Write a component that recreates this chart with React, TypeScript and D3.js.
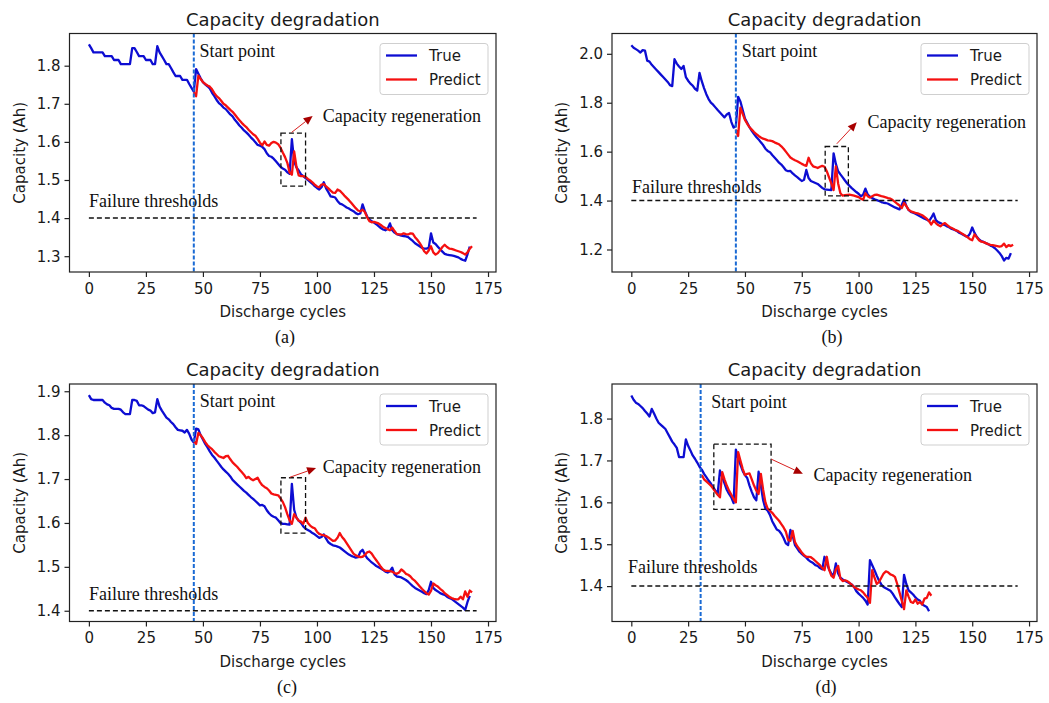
import { useEffect, useRef } from 'react';
import * as d3 from 'd3';

// shared axis values
const cycleTicks = [0, 25, 50, 75, 100, 125, 150, 175];
const failureThreshold = 1.4;
const thresholdEnd = 170;

// (a) true capacity, cycles 0..167
const trueA = [
  1.856, 1.846, 1.835, 1.835, 1.835, 1.835, 1.835, 1.825, 1.825, 1.825,
  1.825, 1.815, 1.815, 1.815, 1.804, 1.804, 1.804, 1.804, 1.804, 1.846,
  1.846, 1.836, 1.825, 1.825, 1.825, 1.815, 1.815, 1.815, 1.804, 1.804,
  1.851, 1.835, 1.825, 1.815, 1.804, 1.804, 1.794, 1.783, 1.773, 1.773,
  1.773, 1.763, 1.763, 1.763, 1.752, 1.742, 1.732, 1.791, 1.779, 1.767,
  1.757, 1.751, 1.746, 1.740, 1.729, 1.720, 1.710, 1.702, 1.697, 1.690,
  1.686, 1.679, 1.672, 1.667, 1.658, 1.651, 1.643, 1.637, 1.630, 1.625,
  1.619, 1.612, 1.606, 1.599, 1.592, 1.590, 1.587, 1.581, 1.570, 1.563,
  1.561, 1.556, 1.549, 1.542, 1.535, 1.530, 1.527, 1.520, 1.516, 1.607,
  1.549, 1.533, 1.525, 1.515, 1.510, 1.505, 1.500, 1.495, 1.490, 1.484,
  1.479, 1.475, 1.481, 1.494, 1.478, 1.468, 1.457, 1.456, 1.454, 1.445,
  1.438, 1.436, 1.432, 1.428, 1.425, 1.421, 1.418, 1.413, 1.410, 1.412,
  1.436, 1.418, 1.404, 1.396, 1.392, 1.388, 1.384, 1.379, 1.374, 1.370,
  1.368, 1.372, 1.386, 1.368, 1.362, 1.358, 1.356, 1.354, 1.353, 1.352,
  1.350, 1.345, 1.340, 1.334, 1.330, 1.326, 1.322, 1.320, 1.320, 1.322,
  1.360, 1.336, 1.332, 1.325, 1.318, 1.312, 1.306, 1.304, 1.303, 1.302,
  1.301, 1.299, 1.297, 1.293, 1.290, 1.288, 1.305, 1.325,
];
// (a) predicted, cycles 46..168
const predA = [
  1.730, 1.720, 1.774, 1.765, 1.757, 1.752, 1.748, 1.745, 1.738, 1.728,
  1.720, 1.715, 1.708, 1.700, 1.696, 1.690, 1.684, 1.679, 1.672, 1.664,
  1.657, 1.650, 1.644, 1.639, 1.632, 1.626, 1.620, 1.616, 1.608, 1.598,
  1.591, 1.601, 1.592, 1.590, 1.597, 1.600, 1.598, 1.594, 1.585, 1.572,
  1.560, 1.545, 1.520, 1.514, 1.575, 1.535, 1.512, 1.510, 1.510, 1.508,
  1.503, 1.499, 1.494, 1.488, 1.483, 1.481, 1.488, 1.489, 1.483, 1.478,
  1.472, 1.467, 1.466, 1.475, 1.472, 1.466, 1.459, 1.453, 1.447, 1.440,
  1.433, 1.426, 1.420, 1.418, 1.422, 1.416, 1.402, 1.392, 1.389, 1.390,
  1.388, 1.386, 1.382, 1.377, 1.374, 1.371, 1.368, 1.375, 1.366, 1.358,
  1.357, 1.357, 1.360, 1.358, 1.357, 1.360, 1.359, 1.350, 1.343, 1.335,
  1.325, 1.313, 1.307, 1.315, 1.326, 1.310, 1.304, 1.308, 1.316, 1.324,
  1.330, 1.324, 1.320, 1.319, 1.317, 1.315, 1.313, 1.311, 1.308, 1.304,
  1.310, 1.320, 1.326,
];

// (b) true capacity, cycles 0..167
const trueB = [
  2.035, 2.025, 2.019, 2.013, 2.005, 2.015, 2.013, 1.972, 1.968, 1.955,
  1.945, 1.935, 1.925, 1.915, 1.905, 1.895, 1.885, 1.872, 1.868, 1.978,
  1.960, 1.948, 1.938, 1.950, 1.905, 1.890, 1.878, 1.870, 1.857, 1.850,
  1.922, 1.888, 1.860, 1.835, 1.815, 1.800, 1.792, 1.781, 1.770, 1.760,
  1.750, 1.740, 1.752, 1.758, 1.722, 1.698, 1.705, 1.824, 1.805, 1.770,
  1.735, 1.718, 1.700, 1.685, 1.672, 1.660, 1.650, 1.638, 1.627, 1.612,
  1.603, 1.598, 1.586, 1.576, 1.566, 1.555, 1.547, 1.536, 1.524, 1.520,
  1.521, 1.511, 1.503, 1.496, 1.488, 1.480, 1.485, 1.525, 1.492, 1.480,
  1.476, 1.472, 1.468, 1.460, 1.452, 1.446, 1.445, 1.444, 1.443, 1.593,
  1.550, 1.520, 1.507, 1.495, 1.482, 1.470, 1.460, 1.451, 1.443, 1.435,
  1.428, 1.418, 1.424, 1.449, 1.425, 1.416, 1.410, 1.405, 1.402, 1.398,
  1.394, 1.391, 1.390, 1.387, 1.382, 1.377, 1.372, 1.368, 1.364, 1.383,
  1.404, 1.378, 1.362, 1.354, 1.350, 1.346, 1.341, 1.336, 1.331, 1.326,
  1.322, 1.316, 1.330, 1.347, 1.320, 1.312, 1.308, 1.303, 1.300, 1.294,
  1.290, 1.284, 1.281, 1.277, 1.270, 1.265, 1.260, 1.255, 1.252, 1.265,
  1.290, 1.268, 1.252, 1.241, 1.234, 1.231, 1.226, 1.222, 1.216, 1.212,
  1.205, 1.196, 1.186, 1.173, 1.155, 1.166, 1.163, 1.185,
];
// (b) predicted, cycles 46..168
const predB = [
  1.690, 1.664, 1.780, 1.755, 1.730, 1.714, 1.700, 1.690, 1.680, 1.672,
  1.664, 1.658, 1.653, 1.650, 1.646, 1.645, 1.643, 1.638, 1.634, 1.630,
  1.622, 1.612, 1.600, 1.588, 1.576, 1.570, 1.565, 1.561, 1.556, 1.550,
  1.545, 1.542, 1.575, 1.552, 1.540, 1.537, 1.533, 1.538, 1.542, 1.538,
  1.520, 1.495, 1.470, 1.443, 1.540, 1.470, 1.430, 1.420, 1.422, 1.423,
  1.424, 1.422, 1.420, 1.417, 1.414, 1.408, 1.403, 1.430, 1.418, 1.412,
  1.418, 1.423, 1.424, 1.421, 1.418, 1.416, 1.413, 1.410, 1.408, 1.402,
  1.395, 1.387, 1.380, 1.369, 1.390, 1.378, 1.362, 1.356, 1.353, 1.350,
  1.348, 1.344, 1.340, 1.333, 1.326, 1.316, 1.302, 1.318, 1.308, 1.300,
  1.295, 1.303, 1.308, 1.300, 1.292, 1.288, 1.283, 1.278, 1.274, 1.268,
  1.262, 1.256, 1.250, 1.242, 1.238, 1.262, 1.250, 1.238, 1.232, 1.230,
  1.226, 1.222, 1.219, 1.218, 1.216, 1.214, 1.212, 1.214, 1.224, 1.210,
  1.218, 1.214, 1.219,
];

// (c) true capacity, cycles 0..167
const trueC = [
  1.891, 1.882, 1.880, 1.880, 1.880, 1.880, 1.880, 1.874, 1.870, 1.868,
  1.862, 1.860, 1.860, 1.860, 1.858, 1.852, 1.848, 1.848, 1.848, 1.880,
  1.880, 1.878, 1.868, 1.868, 1.866, 1.862, 1.858, 1.856, 1.850, 1.852,
  1.882, 1.865, 1.856, 1.848, 1.840, 1.836, 1.830, 1.825, 1.818, 1.812,
  1.811, 1.810, 1.806, 1.812, 1.803, 1.790, 1.783, 1.815, 1.813, 1.800,
  1.790, 1.780, 1.772, 1.763, 1.755, 1.749, 1.742, 1.735, 1.728, 1.722,
  1.717, 1.712, 1.706, 1.698, 1.693, 1.688, 1.683, 1.678, 1.673, 1.669,
  1.664, 1.659, 1.655, 1.650, 1.645, 1.640, 1.641, 1.638, 1.629, 1.622,
  1.617, 1.614, 1.612, 1.606, 1.600, 1.598, 1.598, 1.597, 1.596, 1.689,
  1.630, 1.612, 1.605, 1.600, 1.592, 1.587, 1.584, 1.581, 1.577, 1.574,
  1.570, 1.566, 1.568, 1.574, 1.564, 1.556, 1.552, 1.549, 1.548, 1.546,
  1.544, 1.540, 1.536, 1.532, 1.528, 1.525, 1.523, 1.521, 1.522, 1.534,
  1.539, 1.528, 1.520, 1.515, 1.510, 1.506, 1.502, 1.499, 1.496, 1.493,
  1.489, 1.487, 1.490, 1.498, 1.483, 1.478, 1.477, 1.476, 1.473, 1.470,
  1.466, 1.461, 1.456, 1.452, 1.449, 1.446, 1.443, 1.440, 1.438, 1.447,
  1.466, 1.452, 1.447, 1.444, 1.440, 1.438, 1.436, 1.432, 1.429, 1.427,
  1.423, 1.419, 1.415, 1.411, 1.407, 1.402, 1.420, 1.434,
];
// (c) predicted, cycles 46..168
const predC = [
  1.787, 1.780, 1.805, 1.800, 1.793, 1.784, 1.777, 1.772, 1.768, 1.762,
  1.757, 1.752, 1.750, 1.748, 1.752, 1.753, 1.745, 1.738, 1.733, 1.728,
  1.722, 1.716, 1.710, 1.702, 1.705, 1.700, 1.697, 1.700, 1.703, 1.693,
  1.686, 1.682, 1.679, 1.674, 1.667, 1.665, 1.664, 1.663, 1.656, 1.648,
  1.636, 1.620, 1.606, 1.598, 1.620, 1.612, 1.605, 1.603, 1.598, 1.612,
  1.600, 1.594, 1.590, 1.588, 1.580, 1.575, 1.573, 1.572, 1.570, 1.567,
  1.563, 1.559, 1.560, 1.566, 1.577, 1.568, 1.562, 1.554, 1.546, 1.538,
  1.530, 1.526, 1.524, 1.522, 1.523, 1.527, 1.533, 1.535, 1.530, 1.522,
  1.515, 1.508, 1.500, 1.494, 1.491, 1.491, 1.490, 1.489, 1.486, 1.484,
  1.487, 1.494, 1.490, 1.484, 1.482, 1.478, 1.472, 1.468, 1.462, 1.456,
  1.450, 1.445, 1.440, 1.437, 1.445, 1.462, 1.458, 1.455, 1.450, 1.446,
  1.440, 1.436, 1.432, 1.429, 1.427, 1.426, 1.426, 1.432, 1.426, 1.444,
  1.432, 1.446, 1.442,
];

// (d) true capacity, cycles 0..131
const trueD = [
  1.855, 1.845, 1.838, 1.835, 1.830, 1.825, 1.818, 1.812, 1.805, 1.823,
  1.812, 1.800, 1.790, 1.785, 1.780, 1.775, 1.765, 1.755, 1.745, 1.738,
  1.730, 1.708, 1.708, 1.708, 1.750, 1.735, 1.724, 1.712, 1.704, 1.695,
  1.685, 1.678, 1.668, 1.660, 1.652, 1.645, 1.636, 1.628, 1.620, 1.676,
  1.660, 1.645, 1.630, 1.620, 1.612, 1.598, 1.726, 1.705, 1.690, 1.675,
  1.665, 1.658, 1.640, 1.625, 1.612, 1.605, 1.673, 1.640, 1.605, 1.585,
  1.580, 1.570, 1.555, 1.545, 1.535, 1.532, 1.525, 1.515, 1.502, 1.498,
  1.534, 1.520, 1.498, 1.490, 1.482, 1.477, 1.472, 1.468, 1.462, 1.458,
  1.455, 1.450, 1.448, 1.443, 1.440, 1.470, 1.455, 1.440, 1.430, 1.425,
  1.454, 1.430, 1.420, 1.416, 1.413, 1.410, 1.407, 1.404, 1.398, 1.388,
  1.382, 1.377, 1.372, 1.365, 1.356, 1.462, 1.450, 1.438, 1.425, 1.413,
  1.404, 1.398, 1.395, 1.392, 1.389, 1.382, 1.373, 1.365, 1.357, 1.350,
  1.427, 1.405, 1.390, 1.385, 1.380, 1.373, 1.368, 1.365, 1.356, 1.353,
  1.350, 1.340,
];
// (d) predicted, cycles 31..132
const predD = [
  1.665, 1.655, 1.650, 1.645, 1.640, 1.633, 1.625, 1.618, 1.612, 1.672,
  1.655, 1.640, 1.628, 1.618, 1.608, 1.600, 1.720, 1.700, 1.680, 1.665,
  1.668, 1.669, 1.655, 1.640, 1.628, 1.620, 1.668, 1.630, 1.600, 1.585,
  1.580, 1.575, 1.568, 1.562, 1.556, 1.548, 1.540, 1.530, 1.510, 1.508,
  1.532, 1.505, 1.495, 1.488, 1.480, 1.474, 1.470, 1.470, 1.469, 1.465,
  1.460, 1.455, 1.450, 1.443, 1.438, 1.470, 1.440, 1.425, 1.420, 1.440,
  1.448, 1.418, 1.412, 1.414, 1.412, 1.408, 1.403, 1.398, 1.395, 1.392,
  1.390, 1.385, 1.378, 1.372, 1.360, 1.438, 1.420, 1.405, 1.410, 1.420,
  1.430, 1.435, 1.433, 1.428, 1.426, 1.422, 1.405, 1.385, 1.365, 1.345,
  1.390, 1.375, 1.362, 1.360, 1.368, 1.358, 1.362, 1.356, 1.370, 1.372,
  1.385, 1.377,
];

const BLUE = '#0d0dd2';
const RED = '#f51010';
const START_BLUE = '#1a6ad4';
const SANS = "'DejaVu Sans', sans-serif";
const SERIF = "'Liberation Serif', 'Times New Roman', serif";

// layout + annotation anchors (annotation anchors in data units)
const panels = [
  {
    key: 'a', caption: '(a)', captionX: 285,
    box: { left: 69.5, right: 496, top: 33.5, bottom: 272 },
    trueVals: trueA, predVals: predA, predFrom: 46, startPoint: 46,
    yDomain: [1.2585, 1.8845], yTicks: [1.3, 1.4, 1.5, 1.6, 1.7, 1.8],
    startLabel: [48.5, 1.822], failLabel: [0, 1.428],
    regenBox: [84.2, 95, 1.484, 1.623], arrow: [88.9, 1.625, 98.1, 1.668], regenLabel: [102.5, 1.651],
  },
  {
    key: 'b', caption: '(b)', captionX: 832,
    box: { left: 612, right: 1037, top: 33.5, bottom: 272 },
    trueVals: trueB, predVals: predB, predFrom: 46, startPoint: 46,
    yDomain: [1.108, 2.083], yTicks: [1.2, 1.4, 1.6, 1.8, 2.0],
    startLabel: [48.6, 1.988], failLabel: [0.3, 1.430],
    regenBox: [85.3, 95.5, 1.419, 1.621], arrow: [90.4, 1.632, 99.2, 1.72], regenLabel: [103.9, 1.696],
  },
  {
    key: 'c', caption: '(c)', captionX: 287,
    box: { left: 69.5, right: 496, top: 384, bottom: 621.5 },
    trueVals: trueC, predVals: predC, predFrom: 46, startPoint: 46,
    yDomain: [1.3755, 1.9165], yTicks: [1.4, 1.5, 1.6, 1.7, 1.8, 1.9],
    startLabel: [48.6, 1.864], failLabel: [0, 1.425],
    regenBox: [84.2, 95, 1.577, 1.703], arrow: [88.1, 1.704, 99.6, 1.725], regenLabel: [102.5, 1.714],
  },
  {
    key: 'd', caption: '(d)', captionX: 826,
    box: { left: 612, right: 1037, top: 384, bottom: 621.5 },
    trueVals: trueD, predVals: predD, predFrom: 31, startPoint: 30.5,
    yDomain: [1.3155, 1.8825], yTicks: [1.4, 1.5, 1.6, 1.7, 1.8],
    startLabel: [35.2, 1.826], failLabel: [-1.5, 1.431],
    regenBox: [36.3, 61.5, 1.583, 1.739], arrow: [61.6, 1.703, 75.5, 1.668], regenLabel: [80.2, 1.651],
  },
];

function drawPanel(svg, p) {
  const { left, right, top, bottom } = p.box;
  const g = svg.append('g').attr('class', 'panel-' + p.key);
  const x = d3.scaleLinear().domain([-8.5, 178.5]).range([left, right]);
  const y = d3.scaleLinear().domain(p.yDomain).range([bottom, top]);

  // axes
  const xAxis = g.append('g')
    .attr('transform', `translate(0,${bottom})`)
    .call(d3.axisBottom(x).tickValues(cycleTicks).tickSize(5).tickPadding(6).tickFormat(d3.format('d')));
  const yAxis = g.append('g')
    .attr('transform', `translate(${left},0)`)
    .call(d3.axisLeft(y).tickValues(p.yTicks).tickSize(5).tickPadding(4).tickFormat(d3.format('.1f')));
  [xAxis, yAxis].forEach((a) => {
    a.select('.domain').remove();
    a.attr('font-family', SANS).attr('font-size', 15);
    a.selectAll('line').attr('stroke', '#222').attr('stroke-width', 1.2);
    a.selectAll('text').attr('fill', '#1a1a1a');
  });

  // series
  const line = d3.line().x((d) => x(d[0])).y((d) => y(d[1]));
  const trueSeries = p.trueVals.map((v, i) => [i, v]);
  const predSeries = p.predVals.map((v, i) => [p.predFrom + i, v]);
  g.append('path').datum(trueSeries).attr('d', line)
    .attr('fill', 'none').attr('stroke', BLUE).attr('stroke-width', 2.3).attr('stroke-linejoin', 'round');
  g.append('path').datum(predSeries).attr('d', line)
    .attr('fill', 'none').attr('stroke', RED).attr('stroke-width', 2.3).attr('stroke-linejoin', 'round');

  // start point + failure threshold
  g.append('line')
    .attr('x1', x(p.startPoint)).attr('x2', x(p.startPoint))
    .attr('y1', top).attr('y2', bottom)
    .attr('stroke', START_BLUE).attr('stroke-width', 2).attr('stroke-dasharray', '4,2');
  g.append('line')
    .attr('x1', x(0)).attr('x2', x(thresholdEnd))
    .attr('y1', y(failureThreshold)).attr('y2', y(failureThreshold))
    .attr('stroke', '#111').attr('stroke-width', 1.5).attr('stroke-dasharray', '5,3');

  // regeneration box + arrow
  const [bx0, bx1, by0, by1] = p.regenBox;
  g.append('rect')
    .attr('x', x(bx0)).attr('y', y(by1))
    .attr('width', x(bx1) - x(bx0)).attr('height', y(by0) - y(by1))
    .attr('fill', 'none').attr('stroke', '#111').attr('stroke-width', 1.3).attr('stroke-dasharray', '5,3');

  const [ax0, ay0, ax1, ay1] = p.arrow;
  const sx = x(ax0), sy = y(ay0), ex = x(ax1), ey = y(ay1);
  const ang = Math.atan2(ey - sy, ex - sx);
  const headLen = 9, headW = 4;
  const bxh = ex - headLen * Math.cos(ang), byh = ey - headLen * Math.sin(ang);
  g.append('line').attr('x1', sx).attr('y1', sy).attr('x2', bxh).attr('y2', byh)
    .attr('stroke', '#d82020').attr('stroke-width', 1);
  g.append('path')
    .attr('d', `M${ex},${ey}L${bxh + headW * Math.sin(ang)},${byh - headW * Math.cos(ang)}L${bxh - headW * Math.sin(ang)},${byh + headW * Math.cos(ang)}Z`)
    .attr('fill', '#a80000');

  // annotation texts
  const notes = [
    ['Start point', p.startLabel],
    ['Failure thresholds', p.failLabel],
    ['Capacity regeneration', p.regenLabel],
  ];
  notes.forEach(([txt, pos]) => {
    g.append('text').attr('x', x(pos[0])).attr('y', y(pos[1]))
      .attr('font-family', SERIF).attr('font-size', 18).attr('fill', '#111').text(txt);
  });

  // frame
  g.append('rect').attr('x', left).attr('y', top)
    .attr('width', right - left).attr('height', bottom - top)
    .attr('fill', 'none').attr('stroke', '#222').attr('stroke-width', 1.2);

  // legend
  const lw = 108, lh = 51;
  const lg = g.append('g').attr('transform', `translate(${right - 8 - lw},${top + 10})`);
  lg.append('rect').attr('width', lw).attr('height', lh).attr('rx', 3)
    .attr('fill', 'white').attr('fill-opacity', 0.85).attr('stroke', '#cfcfcf');
  [['True', BLUE, 12], ['Predict', RED, 36]].forEach(([name, col, cy]) => {
    lg.append('line').attr('x1', 6).attr('x2', 37).attr('y1', cy).attr('y2', cy)
      .attr('stroke', col).attr('stroke-width', 2.3);
    lg.append('text').attr('x', 49).attr('y', cy + 5.5)
      .attr('font-family', SANS).attr('font-size', 15).attr('fill', '#1a1a1a').text(name);
  });

  // titles and labels
  const cx = (left + right) / 2;
  g.append('text').attr('x', cx).attr('y', top - 8).attr('text-anchor', 'middle')
    .attr('font-family', SANS).attr('font-size', 18).attr('fill', '#1a1a1a').text('Capacity degradation');
  g.append('text').attr('x', cx).attr('y', bottom + 45).attr('text-anchor', 'middle')
    .attr('font-family', SANS).attr('font-size', 15).attr('fill', '#1a1a1a').text('Discharge cycles');
  g.append('text')
    .attr('transform', `translate(${left - 45},${(top + bottom) / 2}) rotate(-90)`)
    .attr('text-anchor', 'middle')
    .attr('font-family', SANS).attr('font-size', 15).attr('fill', '#1a1a1a').text('Capacity (Ah)');
  g.append('text').attr('x', p.captionX).attr('y', bottom + 71).attr('text-anchor', 'middle')
    .attr('font-family', SERIF).attr('font-size', 18).attr('fill', '#111').text(p.caption);
}

export default function App() {
  const ref = useRef(null);
  useEffect(() => {
    const svg = d3.select(ref.current);
    svg.selectAll('*').remove();
    panels.forEach((p) => drawPanel(svg, p));
  }, []);

  return (
    <svg
      ref={ref}
      width={1049}
      height={703}
      style={{ position: 'absolute', left: 0, top: 0, background: 'white' }}
    />
  );
}
